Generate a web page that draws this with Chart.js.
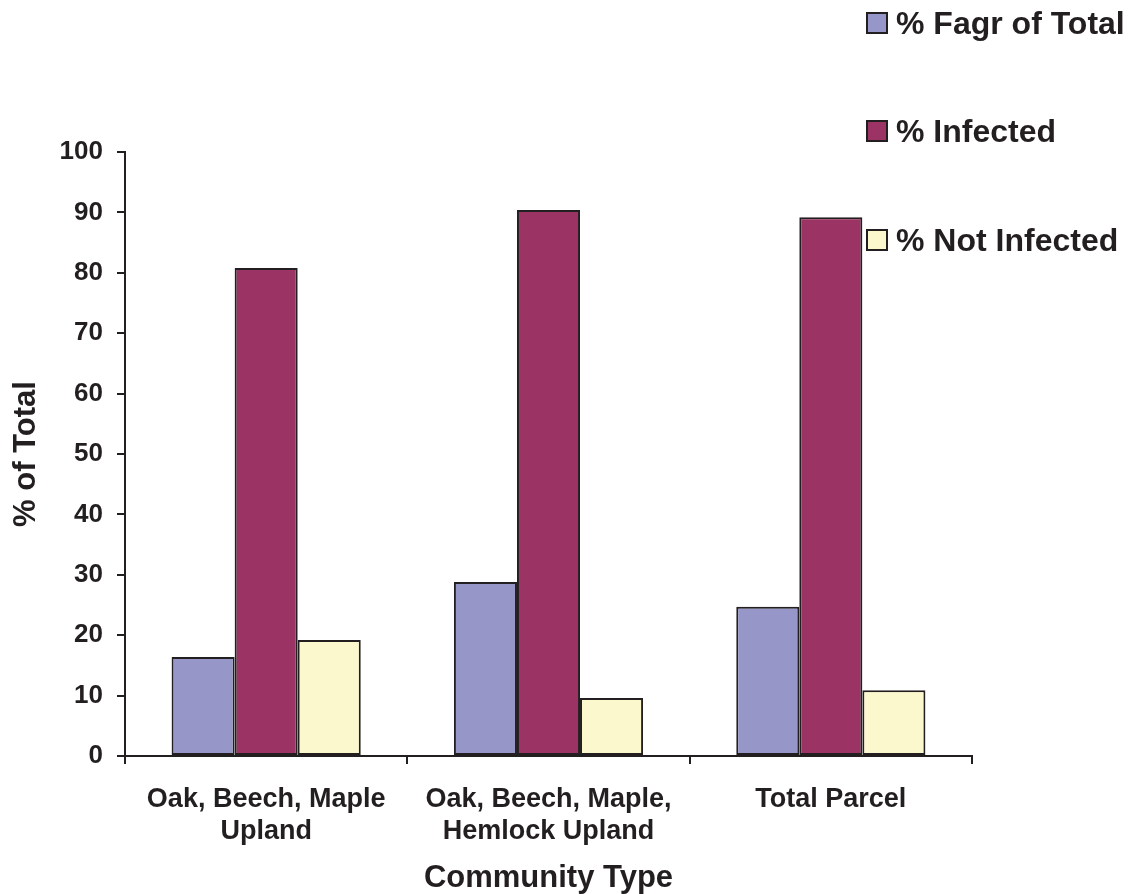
<!DOCTYPE html>
<html>
<head>
<meta charset="utf-8">
<script src="https://cdn.jsdelivr.net/npm/chart.js@4.4.0/dist/chart.umd.min.js"></script>
<style>
  html, body { margin: 0; padding: 0; background: #ffffff; }
  #wrap { position: relative; width: 1130px; height: 894px; }
  #leyenda { position: absolute; left: 866px; top: 0; font-family: "Liberation Sans", Arial, sans-serif; font-weight: bold; font-size: 32px; color: #231f20; }
  .item { position: absolute; left: 0; white-space: nowrap; height: 38px; line-height: 38px; }
  .caja { display: inline-block; width: 18px; height: 18px; border: 2px solid #231f20; vertical-align: middle; margin-right: 8px; position: relative; top: -3px; }
</style>
</head>
<body>
<div id="wrap">
  <canvas id="grafico" width="1130" height="894"></canvas>
  <div id="leyenda"></div>
</div>
<script>
// Datos del gráfico
const categorias = [['Oak, Beech, Maple', 'Upland'], ['Oak, Beech, Maple,', 'Hemlock Upland'], 'Total Parcel'];
const fagrTotal = [16.4, 28.8, 24.7];
const infectados = [80.8, 90.4, 89.2];
const noInfectados = [19.2, 9.6, 10.9];
const etiquetasSeries = ['% Fagr of Total', '% Infected', '% Not Infected'];
const coloresSeries = ['#9696c8', '#9b3464', '#fcf8cd'];

const borde = '#231f20';
const fuente = '"Liberation Sans", Arial, sans-serif';

const series = [fagrTotal, infectados, noInfectados].map(function(valores, i) {
    return {
        label: etiquetasSeries[i],
        data: valores,
        backgroundColor: coloresSeries[i],
        borderColor: borde,
        borderWidth: 2,
        borderSkipped: false,
        categoryPercentage: 0.67,
        barPercentage: 1.0
    };
});

const ctx = document.getElementById('grafico').getContext('2d');
const grafico = new Chart(ctx, {
    type: 'bar',
    data: { labels: categorias, datasets: series },
    options: {
        responsive: false,
        devicePixelRatio: 1,
        animation: false,
        layout: { padding: { left: 0, top: 152, right: 158, bottom: 0 } },
        plugins: { legend: { display: false }, tooltip: { enabled: false } },
        scales: {
            x: {
                grid: { drawOnChartArea: false, color: borde, lineWidth: 2, tickLength: 8, offset: true },
                border: { color: borde, width: 2 },
                ticks: { color: borde, padding: 19, maxRotation: 0, autoSkip: false, font: { family: fuente, size: 27, weight: 'bold', lineHeight: 1.2 } },
                title: { display: true, text: 'Community Type', color: borde, padding: { top: 0, bottom: 0 }, font: { family: fuente, size: 31, weight: 'bold', lineHeight: 1.0 } },
                afterFit: function(escala) { escala.height = 138; }
            },
            y: {
                min: 0,
                max: 100,
                grid: { drawOnChartArea: false, color: borde, lineWidth: 2, tickLength: 8 },
                border: { color: borde, width: 2 },
                ticks: { stepSize: 10, color: borde, padding: 14, font: { family: fuente, size: 26, weight: 'bold' } },
                title: { display: true, text: '% of Total', color: borde, padding: { top: 8, bottom: 0 }, font: { family: fuente, size: 31, weight: 'bold', lineHeight: 1.2 } },
                afterFit: function(escala) { escala.width = 125; }
            }
        }
    }
});

// Leyenda en HTML, en columna arriba a la derecha
const leyenda = document.getElementById('leyenda');
const posicionesY = [4, 112, 221];
etiquetasSeries.forEach(function(texto, i) {
    const item = document.createElement('div');
    item.className = 'item';
    item.style.top = posicionesY[i] + 'px';
    const caja = document.createElement('span');
    caja.className = 'caja';
    caja.style.background = coloresSeries[i];
    item.appendChild(caja);
    item.appendChild(document.createTextNode(texto));
    leyenda.appendChild(item);
});
</script>
</body>
</html>
